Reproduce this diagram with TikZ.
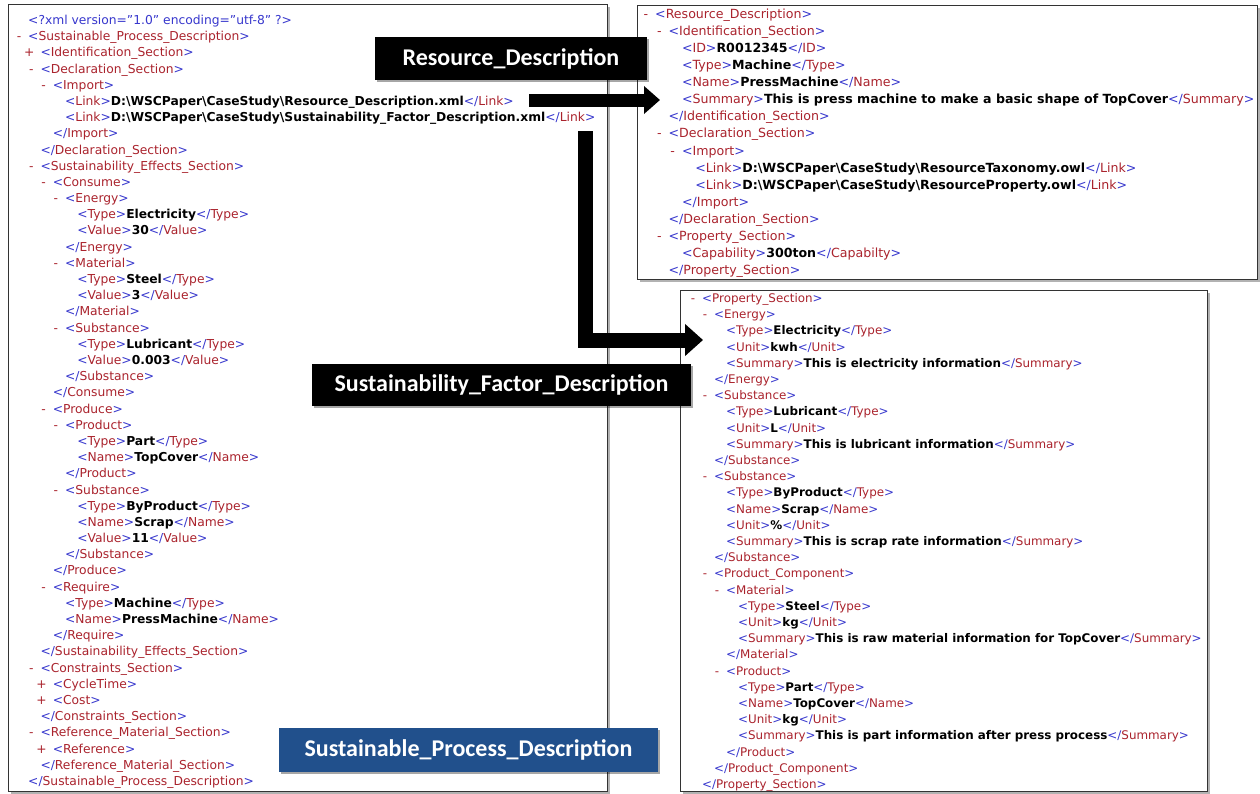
\documentclass[tikz,border=0pt]{standalone}
\usepackage{fontspec}
\setmainfont{DejaVu Sans}
\newfontfamily\lblfont{Carlito}
\usetikzlibrary{arrows.meta,shadows}
\definecolor{xb}{RGB}{55,55,205}
\definecolor{xr}{RGB}{170,35,45}
\definecolor{lblue}{RGB}{33,80,140}
\newcommand\xO[1]{\textcolor{xb}{<}\textcolor{xr}{#1}\textcolor{xb}{>}}
\newcommand\xC[1]{\textcolor{xb}{</}\textcolor{xr}{#1}\textcolor{xb}{>}}
\newcommand\xE[3]{\xO{#1}\textbf{#2}\xC{#3}}
\newcommand\xM{\llap{\textcolor{xr}{-}\hspace{7pt}}}
\newcommand\xP{\llap{\textcolor{xr}{+}\hspace{6pt}}}
\newcommand\bsl{\textbackslash}
\newcommand\xLeft[4]{\node[xl] (#1) at ({28+12.3*#2},{24.5+16.19*(#3-1)}) {#4};}
\newcommand\xRT[4]{\node[xrt] (#1) at ({655+13.4*#2},{18.5+17.07*(#3-1)}) {#4};}
\newcommand\xRB[4]{\node[xrb] (#1) at ({702+12*#2},{302.5+16.2*(#3-1)}) {#4};}
\begin{document}
\begin{tikzpicture}[x=1pt,y=-1pt,
  xl/.style={anchor=base west, inner sep=0pt, font=\fontsize{12.3}{14}\selectfont},
  xrt/.style={anchor=base west, inner sep=0pt, font=\fontsize{12.6}{14}\selectfont},
  xrb/.style={anchor=base west, inner sep=0pt, font=\fontsize{11.9}{14}\selectfont},
  panel/.style={draw=black!80, line width=1.3pt, fill=white, anchor=north west,
    drop shadow={shadow xshift=2pt, shadow yshift=-2pt, opacity=0.3, fill=black}},
  lbl/.style={fill=black, text=white, inner sep=0pt, font=\lblfont\bfseries\fontsize{24}{28}\selectfont,
    drop shadow={shadow xshift=2pt, shadow yshift=-2pt, opacity=0.35, fill=black}},
  bigarrow/.style={draw=black, line join=miter}
]
\useasboundingbox (0,0) rectangle (1260,793);
\fill[white] (0,0) rectangle (1260,793);
% panels
\node[panel, minimum width=599pt, minimum height=787pt] (P1) at (8,4) {};
\node[panel, minimum width=620pt, minimum height=274pt] (P2) at (637,5) {};
\node[panel, minimum width=527pt, minimum height=501pt] (P3) at (680,290) {};

% left panel text
\xLeft{L1}{0}{1}{\textcolor{xb}{<?xml version="1.0" encoding="utf-8" ?>}}
\xLeft{L2}{0}{2}{\xM\xO{Sustainable\_Process\_Description}}
\xLeft{L3}{1}{3}{\xP\xO{Identification\_Section}}
\xLeft{L4}{1}{4}{\xM\xO{Declaration\_Section}}
\xLeft{L5}{2}{5}{\xM\xO{Import}}
\xLeft{L6}{3}{6}{\xE{Link}{D:\bsl WSCPaper\bsl CaseStudy\bsl Resource\_Description.xml}{Link}}
\xLeft{L7}{3}{7}{\xE{Link}{D:\bsl WSCPaper\bsl CaseStudy\bsl Sustainability\_Factor\_Description.xml}{Link}}
\xLeft{L8}{2}{8}{\xC{Import}}
\xLeft{L9}{1}{9}{\xC{Declaration\_Section}}
\xLeft{L10}{1}{10}{\xM\xO{Sustainability\_Effects\_Section}}
\xLeft{L11}{2}{11}{\xM\xO{Consume}}
\xLeft{L12}{3}{12}{\xM\xO{Energy}}
\xLeft{L13}{4}{13}{\xE{Type}{Electricity}{Type}}
\xLeft{L14}{4}{14}{\xE{Value}{30}{Value}}
\xLeft{L15}{3}{15}{\xC{Energy}}
\xLeft{L16}{3}{16}{\xM\xO{Material}}
\xLeft{L17}{4}{17}{\xE{Type}{Steel}{Type}}
\xLeft{L18}{4}{18}{\xE{Value}{3}{Value}}
\xLeft{L19}{3}{19}{\xC{Material}}
\xLeft{L20}{3}{20}{\xM\xO{Substance}}
\xLeft{L21}{4}{21}{\xE{Type}{Lubricant}{Type}}
\xLeft{L22}{4}{22}{\xE{Value}{0.003}{Value}}
\xLeft{L23}{3}{23}{\xC{Substance}}
\xLeft{L24}{2}{24}{\xC{Consume}}
\xLeft{L25}{2}{25}{\xM\xO{Produce}}
\xLeft{L26}{3}{26}{\xM\xO{Product}}
\xLeft{L27}{4}{27}{\xE{Type}{Part}{Type}}
\xLeft{L28}{4}{28}{\xE{Name}{TopCover}{Name}}
\xLeft{L29}{3}{29}{\xC{Product}}
\xLeft{L30}{3}{30}{\xM\xO{Substance}}
\xLeft{L31}{4}{31}{\xE{Type}{ByProduct}{Type}}
\xLeft{L32}{4}{32}{\xE{Name}{Scrap}{Name}}
\xLeft{L33}{4}{33}{\xE{Value}{11}{Value}}
\xLeft{L34}{3}{34}{\xC{Substance}}
\xLeft{L35}{2}{35}{\xC{Produce}}
\xLeft{L36}{2}{36}{\xM\xO{Require}}
\xLeft{L37}{3}{37}{\xE{Type}{Machine}{Type}}
\xLeft{L38}{3}{38}{\xE{Name}{PressMachine}{Name}}
\xLeft{L39}{2}{39}{\xC{Require}}
\xLeft{L40}{1}{40}{\xC{Sustainability\_Effects\_Section}}
\xLeft{L41}{1}{41}{\xM\xO{Constraints\_Section}}
\xLeft{L42}{2}{42}{\xP\xO{CycleTime}}
\xLeft{L43}{2}{43}{\xP\xO{Cost}}
\xLeft{L44}{1}{44}{\xC{Constraints\_Section}}
\xLeft{L45}{1}{45}{\xM\xO{Reference\_Material\_Section}}
\xLeft{L46}{2}{46}{\xP\xO{Reference}}
\xLeft{L47}{1}{47}{\xC{Reference\_Material\_Section}}
\xLeft{L48}{0}{48}{\xC{Sustainable\_Process\_Description}}

% right top panel text
\xRT{T1}{0}{1}{\xM\xO{Resource\_Description}}
\xRT{T2}{1}{2}{\xM\xO{Identification\_Section}}
\xRT{T3}{2}{3}{\xE{ID}{R0012345}{ID}}
\xRT{T4}{2}{4}{\xE{Type}{Machine}{Type}}
\xRT{T5}{2}{5}{\xE{Name}{PressMachine}{Name}}
\xRT{T6}{2}{6}{\xE{Summary}{This is press machine to make a basic shape of TopCover}{Summary}}
\xRT{T7}{1}{7}{\xC{Identification\_Section}}
\xRT{T8}{1}{8}{\xM\xO{Declaration\_Section}}
\xRT{T9}{2}{9}{\xM\xO{Import}}
\xRT{T10}{3}{10}{\xE{Link}{D:\bsl WSCPaper\bsl CaseStudy\bsl ResourceTaxonomy.owl}{Link}}
\xRT{T11}{3}{11}{\xE{Link}{D:\bsl WSCPaper\bsl CaseStudy\bsl ResourceProperty.owl}{Link}}
\xRT{T12}{2}{12}{\xC{Import}}
\xRT{T13}{1}{13}{\xC{Declaration\_Section}}
\xRT{T14}{1}{14}{\xM\xO{Property\_Section}}
\xRT{T15}{2}{15}{\xE{Capability}{300ton}{Capabilty}}
\xRT{T16}{1}{16}{\xC{Property\_Section}}

% right bottom panel text
\xRB{B1}{0}{1}{\xM\xO{Property\_Section}}
\xRB{B2}{1}{2}{\xM\xO{Energy}}
\xRB{B3}{2}{3}{\xE{Type}{Electricity}{Type}}
\xRB{B4}{2}{4}{\xE{Unit}{kwh}{Unit}}
\xRB{B5}{2}{5}{\xE{Summary}{This is electricity information}{Summary}}
\xRB{B6}{1}{6}{\xC{Energy}}
\xRB{B7}{1}{7}{\xM\xO{Substance}}
\xRB{B8}{2}{8}{\xE{Type}{Lubricant}{Type}}
\xRB{B9}{2}{9}{\xE{Unit}{L}{Unit}}
\xRB{B10}{2}{10}{\xE{Summary}{This is lubricant information}{Summary}}
\xRB{B11}{1}{11}{\xC{Substance}}
\xRB{B12}{1}{12}{\xM\xO{Substance}}
\xRB{B13}{2}{13}{\xE{Type}{ByProduct}{Type}}
\xRB{B14}{2}{14}{\xE{Name}{Scrap}{Name}}
\xRB{B15}{2}{15}{\xE{Unit}{\%}{Unit}}
\xRB{B16}{2}{16}{\xE{Summary}{This is scrap rate information}{Summary}}
\xRB{B17}{1}{17}{\xC{Substance}}
\xRB{B18}{1}{18}{\xM\xO{Product\_Component}}
\xRB{B19}{2}{19}{\xM\xO{Material}}
\xRB{B20}{3}{20}{\xE{Type}{Steel}{Type}}
\xRB{B21}{3}{21}{\xE{Unit}{kg}{Unit}}
\xRB{B22}{3}{22}{\xE{Summary}{This is raw material information for TopCover}{Summary}}
\xRB{B23}{2}{23}{\xC{Material}}
\xRB{B24}{2}{24}{\xM\xO{Product}}
\xRB{B25}{3}{25}{\xE{Type}{Part}{Type}}
\xRB{B26}{3}{26}{\xE{Name}{TopCover}{Name}}
\xRB{B27}{3}{27}{\xE{Unit}{kg}{Unit}}
\xRB{B28}{3}{28}{\xE{Summary}{This is part information after press process}{Summary}}
\xRB{B29}{2}{29}{\xC{Product}}
\xRB{B30}{1}{30}{\xC{Product\_Component}}
\xRB{B31}{0}{31}{\xC{Property\_Section}}

% arrows
\coordinate (a1s) at (529,100);
\coordinate (a1e) at (660,100);
\draw[bigarrow, line width=13pt, -{Triangle[length=16pt,width=27pt]}] (a1s) -- (a1e);
\coordinate (a2s) at (585,131);
\coordinate (a2e) at (703,340);
\draw[bigarrow, line width=15pt, -{Triangle[length=18pt,width=31pt]}] (a2s) |- (a2e);

% labels
\node[lbl, minimum width=272pt, minimum height=43pt] (Lres) at (511,58.5) {Resource\_Description};
\node[lbl, minimum width=379pt, minimum height=42pt] (Lsf) at (501.5,385) {Sustainability\_Factor\_Description};
\node[lbl, fill=lblue, minimum width=379pt, minimum height=44pt] (Lsp) at (468.5,750) {Sustainable\_Process\_Description};
\end{tikzpicture}
\end{document}
